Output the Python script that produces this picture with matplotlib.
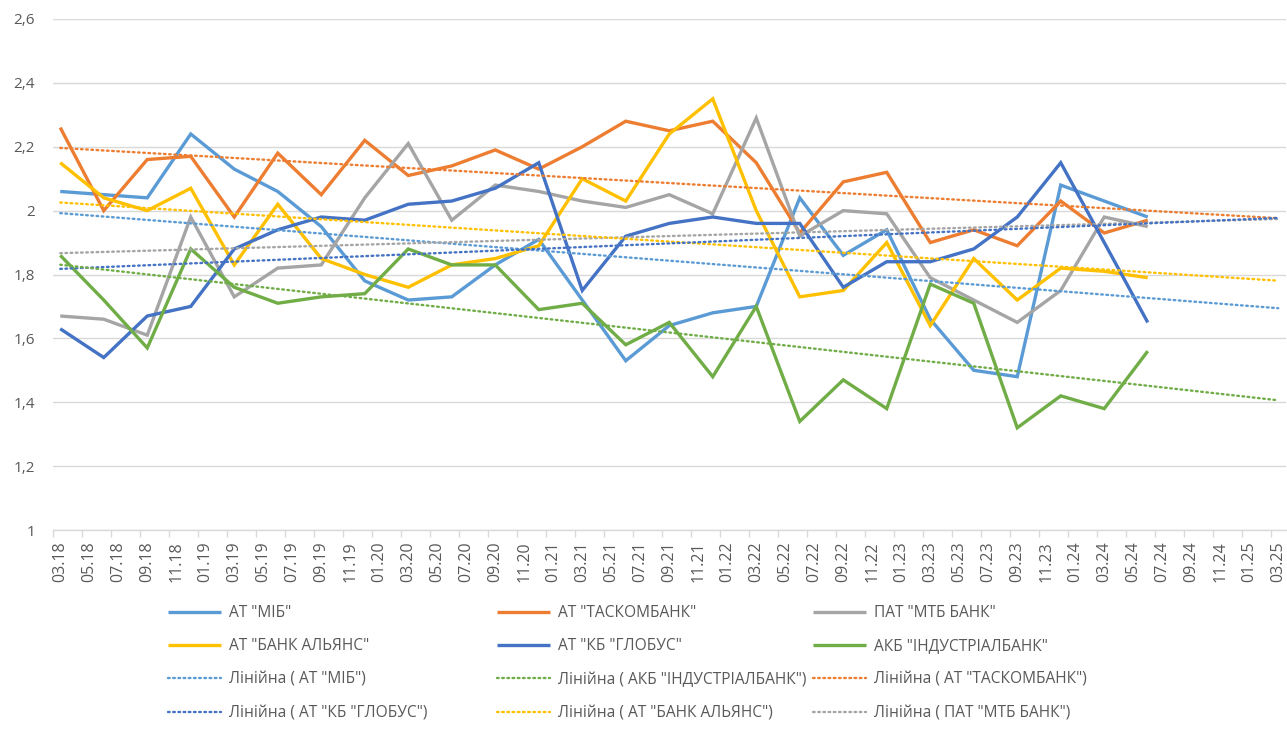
import numpy as np
import pandas as pd
import matplotlib
matplotlib.use('Agg')
import matplotlib.pyplot as plt

# Quarterly observations 03.18 - 06.24, axis labels every two months up to 03.25
OBS_DATES = pd.date_range('2018-03-01', '2024-06-01', freq='3MS')
LABEL_DATES = pd.date_range('2018-03-01', '2025-03-01', freq='2MS')
TICK_LABELS = [d.strftime('%m.%y') for d in LABEL_DATES]

NAMES = ['АТ "МІБ"', 'АТ "ТАСКОМБАНК"', 'ПАТ "МТБ БАНК"',
         'АТ "БАНК АЛЬЯНС"', 'АТ "КБ "ГЛОБУС"', 'АКБ "ІНДУСТРІАЛБАНК"']
COLORS = ['#5B9BD5', '#ED7D31', '#A5A5A5', '#FFC000', '#4472C4', '#70AD47']

MIB = [2.06, 2.05, 2.04, 2.24, 2.13, 2.06, 1.95, 1.78, 1.72, 1.73, 1.83, 1.91, 1.72,
       1.53, 1.64, 1.68, 1.70, 2.04, 1.86, 1.94, 1.66, 1.50, 1.48, 2.08, 2.03, 1.98]
TASKOM = [2.26, 2.00, 2.16, 2.17, 1.98, 2.18, 2.05, 2.22, 2.11, 2.14, 2.19, 2.13, 2.20,
          2.28, 2.25, 2.28, 2.15, 1.93, 2.09, 2.12, 1.90, 1.94, 1.89, 2.03, 1.93, 1.97]
MTB = [1.67, 1.66, 1.61, 1.98, 1.73, 1.82, 1.83, 2.04, 2.21, 1.97, 2.08, 2.06, 2.03,
       2.01, 2.05, 1.99, 2.29, 1.92, 2.00, 1.99, 1.79, 1.72, 1.65, 1.75, 1.98, 1.95]
ALLIANCE = [2.15, 2.04, 2.00, 2.07, 1.83, 2.02, 1.85, 1.80, 1.76, 1.83, 1.85, 1.89, 2.10,
            2.03, 2.24, 2.35, 2.00, 1.73, 1.75, 1.90, 1.64, 1.85, 1.72, 1.82, 1.81, 1.79]
GLOBUS = [1.63, 1.54, 1.67, 1.70, 1.88, 1.94, 1.98, 1.97, 2.02, 2.03, 2.07, 2.15, 1.75,
          1.92, 1.96, 1.98, 1.96, 1.96, 1.76, 1.84, 1.84, 1.88, 1.98, 2.15, 1.90, 1.65]
INDUSTRIAL = [1.86, 1.72, 1.57, 1.88, 1.76, 1.71, 1.73, 1.74, 1.88, 1.83, 1.83, 1.69, 1.71,
              1.58, 1.65, 1.48, 1.70, 1.34, 1.47, 1.38, 1.77, 1.71, 1.32, 1.42, 1.38, 1.56]

VALUES = [MIB, TASKOM, MTB, ALLIANCE, GLOBUS, INDUSTRIAL]

# Legend columns (indices into NAMES); 's' = series, 't' = its linear trend
LEGEND_COLUMNS = [
    [(0, 's'), (3, 's'), (0, 't'), (4, 't')],
    [(1, 's'), (4, 's'), (5, 't'), (3, 't')],
    [(2, 's'), (5, 's'), (1, 't'), (2, 't')],
]

TEXT_COLOR = '#595959'
GRID_COLOR = '#D9D9D9'
FONT = 'Open Sans'


def month_index(dates):
    """Months elapsed since March 2018."""
    return np.array([(d.year - 2018) * 12 + d.month - 3 for d in dates], dtype=float)


plt.rcParams.update({
    'font.family': [FONT, 'DejaVu Sans'],
    'font.size': 11,
})

W, H = 1287, 729
fig = plt.figure(figsize=(W / 100, H / 100), dpi=100)
ax = fig.add_axes([53 / W, 1 - 530 / H, (1285.5 - 53) / W, (530 - 19) / H])

x_obs = month_index(OBS_DATES)
x_lab = month_index(LABEL_DATES)
x_trend = np.array([x_obs[0], x_lab[-1]])

series_handles = []
trend_handles = []
for name, vals, color in zip(NAMES, VALUES, COLORS):
    h, = ax.plot(x_obs, vals, color=color, lw=2.4, solid_joinstyle='miter',
                 solid_capstyle='butt', label=name)
    series_handles.append(h)

# linear trends, projected forward to the end of the axis
for name, vals, color in zip(NAMES, VALUES, COLORS):
    slope, icpt = np.polyfit(x_obs, vals, 1)
    t, = ax.plot(x_trend, slope * x_trend + icpt, color=color, lw=1.7,
                 linestyle=(0, (0.7, 1.5)), dash_capstyle='round',
                 label=f'Лінійна ( {name})')
    trend_handles.append(t)

ax.set_xlim(-0.5, 84.5)
ax.set_ylim(1, 2.6)
yticks = np.arange(1, 2.61, 0.2).round(1)
ax.set_yticks(yticks)
ax.set_yticklabels([f'{v:g}'.replace('.', ',') for v in yticks])
ax.set_xticks(x_lab)
ax.set_xticklabels(TICK_LABELS, rotation=90)
ax.set_xticks(np.arange(-0.5, 85, 2), minor=True)

ax.grid(axis='y', color=GRID_COLOR, lw=1)
ax.set_axisbelow(True)
for side in ['top', 'right', 'left']:
    ax.spines[side].set_visible(False)
ax.spines['bottom'].set_color(GRID_COLOR)
ax.spines['bottom'].set_linewidth(1)

ax.tick_params(axis='y', length=0, pad=13, labelsize=11, labelcolor=TEXT_COLOR)
ax.tick_params(axis='x', which='major', length=0, pad=8, labelsize=11.5,
               labelcolor=TEXT_COLOR)
ax.tick_params(axis='x', which='minor', length=5, width=1, color=GRID_COLOR)

# Three legend columns at fixed positions below the axes
col_x = [168, 497, 813]
for cx, column in zip(col_x, LEGEND_COLUMNS):
    handles = [series_handles[i] if kind == 's' else trend_handles[i]
               for i, kind in column]
    fig.legend(handles=handles, loc='upper left',
               bbox_to_anchor=(cx / W, 1 - 605 / H),
               frameon=False, fontsize=11.2, labelcolor=TEXT_COLOR,
               handlelength=3.4, handletextpad=0.5, labelspacing=1.12,
               borderpad=0, borderaxespad=0)

fig.savefig('out.png', dpi=100, facecolor='white')
plt.close(fig)
